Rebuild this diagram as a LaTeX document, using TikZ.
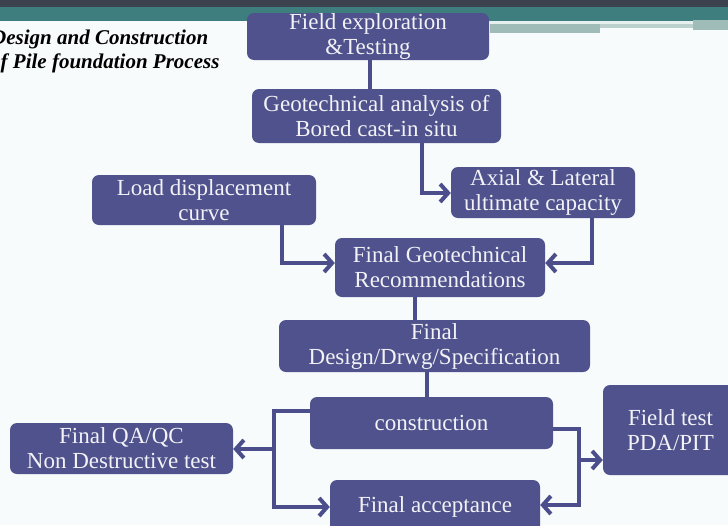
\documentclass[tikz,border=0pt]{standalone}
\usepackage{fontspec}
\setmainfont{Liberation Serif}
\usetikzlibrary{arrows.meta}
\definecolor{boxc}{HTML}{4F528C}
\definecolor{linec}{HTML}{4B4E8A}
\definecolor{txtc}{HTML}{F2F2F7}
\definecolor{bgc}{HTML}{F8FBFB}
\definecolor{darkband}{HTML}{3C4150}
\definecolor{tealband}{HTML}{3E7E7F}
\definecolor{lightband}{HTML}{E6F1EF}
\definecolor{grayteal}{HTML}{9FBCB8}
\begin{document}
\begin{tikzpicture}[x=1pt,y=-1pt,
  procbox/.style={rectangle, rounded corners=7pt, fill=boxc, text=txtc,
    align=center, inner sep=0pt, font=\fontsize{23}{25}\selectfont},
  link/.style={draw=linec, line width=4pt},
  arr/.style={link, -{Straight Barb[length=8pt,width=18pt]}},
  titletext/.style={anchor=base west, inner sep=0pt,
    font=\fontsize{21}{24}\selectfont\bfseries\itshape, text=black}]
\useasboundingbox (0,0) rectangle (728,525);
% background and header
\fill[bgc] (0,0) rectangle (728,525);
\fill[darkband] (0,0) rectangle (728,7);
\fill[tealband] (0,7) rectangle (728,21);
\fill[grayteal] (490,24) rectangle (600,33);
\fill[grayteal!70!white] (600,24) rectangle (693,28);
\fill[grayteal] (693,20) rectangle (728,30);
\fill[lightband] (490,21) rectangle (693,24);
% title
\node[titletext] (t1) at (-9,44) {Design and Construction};
\node[titletext] (t2) at (-10,68) {of Pile foundation Process};
% boxes
\node[procbox, minimum width=242pt, minimum height=47pt] (field) at (368,36.5) {Field exploration\\\&Testing};
\node[procbox, minimum width=249pt, minimum height=54pt] (geo) at (376.5,116) {Geotechnical analysis of\\Bored cast-in situ};
\node[procbox, minimum width=184pt, minimum height=51pt] (axial) at (543,192.5) {Axial \& Lateral\\ultimate capacity};
\node[procbox, minimum width=224pt, minimum height=50pt] (load) at (204,200) {Load displacement\\curve};
\node[procbox, minimum width=210pt, minimum height=59pt] (fgeo) at (440,267.5) {Final Geotechnical\\Recommendations};
\node[procbox, minimum width=311pt, minimum height=52pt] (design) at (434.5,346) {Final\\Design/Drwg/Specification};
\node[procbox, minimum width=243pt, minimum height=52pt] (cons) at (431.5,423) {construction};
\node[procbox, minimum width=223pt, minimum height=51pt] (qa) at (121.5,448.5) {Final QA/QC\\Non Destructive test};
\node[procbox, minimum width=135pt, minimum height=90pt] (ftest) at (670.5,430) {Field test\\PDA/PIT};
\node[procbox, minimum width=210pt, minimum height=54pt] (facc) at (435,507) {Final acceptance};
% junctions
\coordinate (jl) at (274,449);
\coordinate (jr) at (579,460);
% connectors
\draw[link] ([xshift=2pt]field.south) -- ([xshift=2pt]field.south |- geo.north);
\draw[arr] ([xshift=45.5pt]geo.south) |- ([yshift=-0.5pt]axial.west);
\draw[arr] ([xshift=78pt]load.south) |- ([yshift=4.5pt]fgeo.west);
\draw[arr] ([xshift=49pt]axial.south) |- ([yshift=4.5pt]fgeo.east);
\draw[link] ([xshift=-25pt]fgeo.south) -- ([xshift=-25pt]fgeo.south |- design.north);
\draw[link] ([xshift=-7.5pt]design.south) -- ([xshift=-7.5pt]design.south |- cons.north);
\draw[arr] ([yshift=12pt]cons.west) -| (jl) |- (facc.west);
\draw[arr] (jl) -- (jl -| qa.east);
\draw[arr] ([yshift=-6pt]cons.east) -| (jr) |- ([yshift=2pt]facc.east);
\draw[arr] (jr) -- (jr -| ftest.west);
\end{tikzpicture}
\end{document}
